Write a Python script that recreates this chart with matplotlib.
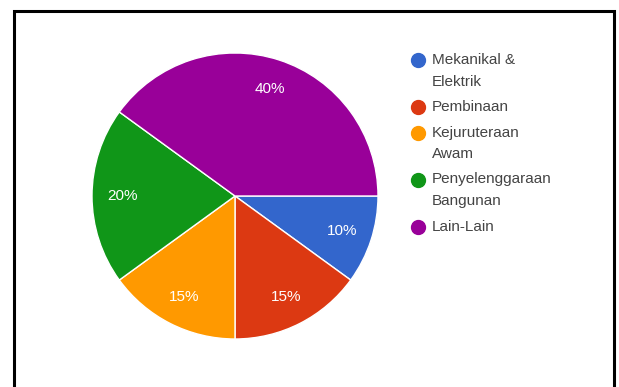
import matplotlib
matplotlib.use("Agg")
import matplotlib.pyplot as plt
from matplotlib.lines import Line2D
from matplotlib.patches import Rectangle

plt.rcParams['font.family'] = ['Liberation Sans', 'DejaVu Sans']

categories = ["Mekanikal &\nElektrik", "Pembinaan", "Kejuruteraan\nAwam",
              "Penyelenggaraan\nBangunan", "Lain-Lain"]
values = [10, 15, 15, 20, 40]
colors = ["#3366CC", "#DC3912", "#FF9900", "#109618", "#990099"]

fig = plt.figure(figsize=(6.19, 3.87), dpi=100)
W, H = 619, 387
cx, cy, r = 235, 196, 143
ax = fig.add_axes([(cx - r) / W, (H - cy - r) / H, 2 * r / W, 2 * r / H])
wedges, texts, autotexts = ax.pie(
    values, colors=colors, startangle=0, counterclock=False,
    autopct=lambda p: f"{p:.0f}%", pctdistance=0.79, radius=1,
    wedgeprops=dict(edgecolor="white", linewidth=1.0),
    textprops=dict(color="white", fontsize=11))
ax.set_xlim(-1, 1)
ax.set_ylim(-1, 1)
ax.set_aspect("equal")
ax.axis("off")

# legend (drawn manually to match Google-chart style wrapping)
y = 60.0
line_step, entry_gap = 21.5, 25.5
for lab, c in zip(categories, colors):
    lines = lab.split("\n")
    fig.add_artist(Line2D([418 / W], [1 - y / H], marker="o", markersize=10,
                          markerfacecolor=c, markeredgecolor=c,
                          linestyle="none", transform=fig.transFigure))
    for i, ln in enumerate(lines):
        fig.text(432 / W, 1 - (y + i * line_step) / H, ln, fontsize=11,
                 color="#444444", va="center", ha="left")
    y += (len(lines) - 1) * line_step + entry_gap

# screenshot frame
fig.patches.append(Rectangle((13.5 / W, -0.05), (614 - 13.5) / W, 1.05 - 11 / H,
                             transform=fig.transFigure, fill=False,
                             edgecolor="black", linewidth=2.2))

fig.savefig("out.png", dpi=100)
